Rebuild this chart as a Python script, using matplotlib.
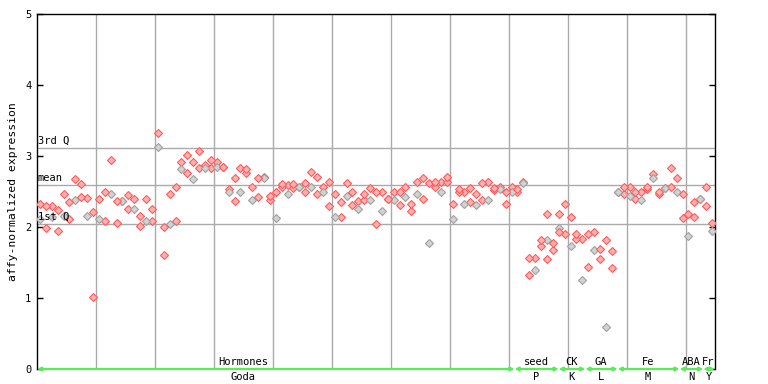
import numpy as np
import matplotlib
matplotlib.use("Agg")
import matplotlib.pyplot as plt

# nilai ekspresi per sampel (dua replikat per kolom)
upper = [2.33, 2.29, 2.30, 2.24, 2.47, 2.35, 2.67, 2.60, 2.41, 2.21,
         2.39, 2.50, 2.94, 2.36, 2.36, 2.45, 2.40, 2.16, 2.39, 2.26,
         3.32, 2.00, 2.46, 2.57, 2.91, 3.01, 2.92, 3.07, 2.87, 2.94,
         2.92, 2.84, 2.53, 2.69, 2.83, 2.81, 2.56, 2.69, 2.70, 2.43,
         2.50, 2.60, 2.59, 2.60, 2.56, 2.62, 2.77, 2.71, 2.57, 2.64,
         2.47, 2.35, 2.62, 2.49, 2.36, 2.46, 2.55, 2.50, 2.49, 2.39,
         2.50, 2.49, 2.57, 2.32, 2.63, 2.69, 2.62, 2.64, 2.64, 2.71,
         2.33, 2.53, 2.49, 2.55, 2.46, 2.62, 2.64, 2.55, 2.56, 2.50,
         2.56, 2.53, 2.64, 1.56, 1.56, 1.81, 2.18, 1.78, 2.18, 2.33,
         2.14, 1.90, 1.83, 1.90, 1.93, 1.69, 1.81, 1.66, 2.50, 2.56,
         2.56, 2.49, 2.49, 2.57, 2.74, 2.50, 2.55, 2.83, 2.69, 2.46,
         2.18, 2.35, 2.39, 2.56, 2.05]
lower = [2.11, 1.98, 2.14, 1.94, 2.15, 2.11, 2.38, 2.42, 2.15, 1.02,
         2.11, 2.09, 2.47, 2.05, 2.36, 2.25, 2.26, 2.02, 2.08, 2.08,
         3.13, 1.60, 2.04, 2.09, 2.81, 2.76, 2.67, 2.83, 2.83, 2.83,
         2.84, 2.84, 2.50, 2.36, 2.49, 2.76, 2.38, 2.42, 2.69, 2.38,
         2.12, 2.57, 2.47, 2.55, 2.56, 2.50, 2.56, 2.47, 2.50, 2.29,
         2.14, 2.14, 2.43, 2.31, 2.26, 2.38, 2.38, 2.04, 2.22, 2.39,
         2.38, 2.31, 2.42, 2.22, 2.46, 2.40, 1.78, 2.57, 2.49, 2.63,
         2.11, 2.50, 2.32, 2.35, 2.31, 2.38, 2.38, 2.52, 2.53, 2.32,
         2.50, 2.50, 2.62, 1.33, 1.39, 1.73, 1.81, 1.67, 1.98, 1.90,
         1.73, 1.83, 1.26, 1.43, 1.67, 1.55, 0.59, 1.42, 2.50, 2.47,
         2.43, 2.39, 2.38, 2.53, 2.69, 2.46, 2.55, 2.57, 2.49, 2.12,
         1.88, 2.14, 2.39, 2.29, 1.94]
extra_idx = [86, 88]
extra_val = [1.55, 1.93]

# garis kuartil
q3, mean, q1 = 3.11, 2.59, 2.04

# kelompok di sumbu x
grp_top = ["Hormones", "seed", "CK", "GA", "Fe", "ABA", "Fr"]
grp_bot = ["Goda", "P", "K", "L", "M", "N", "Y"]
grp_start = [0, 81, 88.5, 93, 98.5, 109, 113]
grp_end = [81, 88.5, 93, 98.5, 109, 113, 115]
grp_lab = [35, 84.7, 90.7, 95.6, 103.6, 111, 113.9]

n = len(upper)
x = np.arange(n) + 0.5

fig = plt.figure(figsize=(7.68, 3.84), dpi=100)
ax = fig.add_axes([37/768, 15/384, 678/768, 355/384])

RED_E, RED_F = "#ff5a5a", "#ffb0b0"
GRY_E, GRY_F = "#a0a0a0", "#d2d2d2"

even = (np.arange(n) % 2 == 0)
up = np.array(upper)
lo = np.array(lower)
kw = dict(marker="D", ms=3.6, ls="none", mew=0.8, zorder=3)
ax.plot(x[even], up[even], mec=RED_E, mfc=RED_F, **kw)
ax.plot(x[~even], lo[~even], mec=RED_E, mfc=RED_F, **kw)
ax.plot(x[even], lo[even], mec=GRY_E, mfc=GRY_F, **kw)
ax.plot(x[~even], up[~even], mec=RED_E, mfc=RED_F, **kw)
ax.plot(np.array(extra_idx) + 0.5, extra_val, mec=RED_E, mfc=RED_F, **kw)

for xv in range(10, 115, 10):
    ax.axvline(xv, color="#aaaaaa", lw=1, zorder=1)
mono = "DejaVu Sans Mono"
for val, lab in [(q3, "3rd Q"), (mean, "mean"), (q1, "1st Q")]:
    ax.axhline(val, color="#aaaaaa", lw=1, zorder=1)
    ax.text(0.1, val + 0.03, lab, fontsize=7.5, family=mono, va="bottom", ha="left")

ax.set_xlim(0, 115)
ax.set_ylim(0, 5)
ax.set_xticks([])
ax.set_yticks(range(6))
ax.tick_params(axis="y", direction="in", length=4, width=1, labelsize=7.5,
               right=True, pad=4)
for lab in ax.get_yticklabels():
    lab.set_family(mono)
ax.set_ylabel("affy-normalized expression", fontsize=8.2, family=mono, labelpad=5)
for s in ["left", "right", "top"]:
    ax.spines[s].set_color("black")
    ax.spines[s].set_linewidth(1)
ax.spines["bottom"].set_visible(False)

# garis hijau kelompok
for s0, s1, t, b, c in zip(grp_start, grp_end, grp_top, grp_bot, grp_lab):
    ax.annotate("", xy=(s1, 0), xytext=(s0, 0),
                arrowprops=dict(arrowstyle="<|-|>", color="#55ee55", lw=1.6,
                                mutation_scale=5, shrinkA=0, shrinkB=0),
                annotation_clip=False, zorder=4)
    ax.text(c, 0.03, t, fontsize=7.5, family=mono, ha="center", va="bottom")
    ax.text(c, -0.04, b, fontsize=7.5, family=mono, ha="center", va="top")

fig.savefig("out.png", dpi=100)
